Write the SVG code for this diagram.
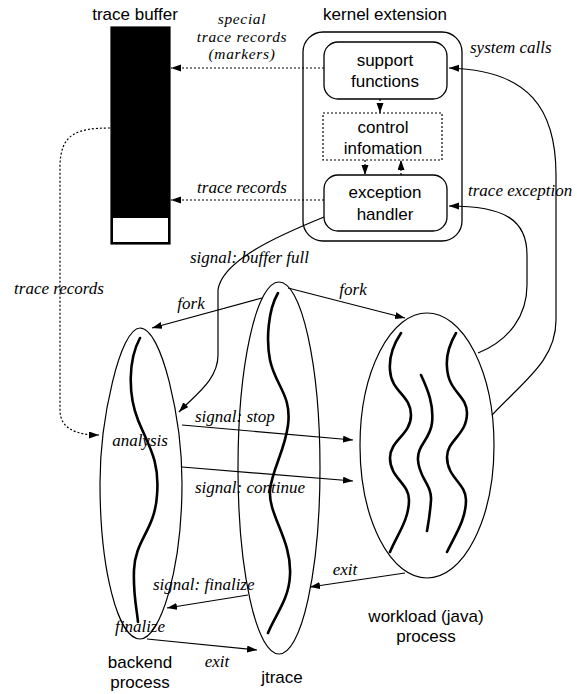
<svg xmlns="http://www.w3.org/2000/svg" width="577" height="694" viewBox="0 0 577 694">
<style>
.sans{font-family:"Liberation Sans",Arial,sans-serif;font-size:17px;fill:#000}
.it{font-family:"Liberation Serif","Times New Roman",serif;font-style:italic;font-size:17px;fill:#000}
.its{font-family:"Liberation Serif","Times New Roman",serif;font-style:italic;font-size:15.4px;letter-spacing:0.7px;fill:#000}
.box{fill:#fff;stroke:#000;stroke-width:1.3}
.proc{fill:none;stroke:#000;stroke-width:1.2}
.thr{fill:none;stroke:#000;stroke-width:2.6;stroke-linecap:round}
.ln{fill:none;stroke:#000;stroke-width:1.2}
.dot{fill:none;stroke:#000;stroke-width:1.2;stroke-dasharray:2,2}
</style>
<defs>
<marker id="ah" markerUnits="userSpaceOnUse" markerWidth="11" markerHeight="8" refX="10" refY="3.5" orient="auto">
<path d="M0,0 L10,3.5 L0,7 z" fill="#000"/>
</marker>
</defs>
<rect width="577" height="694" fill="#fff"/>

<g id="trace-buffer">
<rect x="111" y="27" width="59" height="217" fill="#000" stroke="#000" stroke-width="1.2"/>
<rect x="113" y="218" width="55" height="24" fill="#fff"/>
<text class="sans" x="135" y="20" text-anchor="middle">trace buffer</text>
</g>

<g id="kernel-extension">
<rect class="box" x="303" y="32" width="159" height="209" rx="20"/>
<text class="sans" x="385" y="20" text-anchor="middle">kernel extension</text>
</g>

<g id="support-functions">
<rect class="box" x="324" y="42" width="123" height="57" rx="14"/>
<text class="sans" x="385" y="66" text-anchor="middle">support</text>
<text class="sans" x="385" y="87" text-anchor="middle">functions</text>
</g>

<g id="control-information">
<rect x="323" y="113" width="119" height="47" fill="#fff" stroke="#000" stroke-width="1.2" stroke-dasharray="2,2"/>
<text class="sans" x="383" y="133" text-anchor="middle">control</text>
<text class="sans" x="383" y="154" text-anchor="middle">infomation</text>
</g>

<g id="exception-handler">
<rect class="box" x="324" y="175" width="123" height="56" rx="14"/>
<text class="sans" x="385" y="198" text-anchor="middle">exception</text>
<text class="sans" x="385" y="220" text-anchor="middle">handler</text>
</g>

<g id="backend-process">
<path class="proc" d="M140,328 C120,328 100,420 100,483 C100,570 118,639 140,639 C160,639 182,570 182,483 C182,420 162,328 140,328 Z"/>
<path class="thr" d="M140,338 C128,360 128,395 138,420 C148,445 160,460 157,495 C155,530 135,540 134,570 C133,595 137,610 138,622"/>
<text class="it" x="140" y="446" text-anchor="middle">analysis</text>
<text class="it" x="140" y="632" text-anchor="middle">finalize</text>
<text class="sans" x="140" y="668" text-anchor="middle">backend</text>
<text class="sans" x="140" y="688" text-anchor="middle">process</text>
</g>

<g id="jtrace">
<ellipse class="proc" cx="279" cy="468" rx="41" ry="186"/>
<path class="thr" d="M278,293 C268,310 266,340 270,360 C275,385 292,395 288,425 C285,450 272,470 270,490 C268,515 292,540 290,575 C289,600 275,615 268,633"/>
<text class="sans" x="282" y="683" text-anchor="middle">jtrace</text>
</g>

<g id="workload-process">
<ellipse class="proc" cx="427" cy="445.5" rx="67" ry="132.5"/>
<path class="thr" d="M401,333 C393,345 389,358 390,370 C391,392 411,395 411,415 C411,435 390,440 390,458 C390,478 409,483 409,500 C409,520 397,535 390,552"/>
<path class="thr" d="M421,375 C428,390 434,405 432,423 C430,440 417,445 418,460 C419,478 432,485 431,500 C430,515 428,525 427,531"/>
<path class="thr" d="M456,333 C449,345 446,356 447,367 C448,392 467,395 467,413 C467,435 447,440 447,457 C447,478 466,483 466,500 C466,520 455,535 447,552"/>
<text class="sans" x="426" y="622" text-anchor="middle">workload (java)</text>
<text class="sans" x="426" y="642" text-anchor="middle">process</text>
</g>

<g id="connectors">
<line class="dot" x1="380" y1="99" x2="380" y2="113" marker-end="url(#ah)"/>
<line class="dot" x1="365" y1="160" x2="365" y2="175" marker-end="url(#ah)"/>
<line class="dot" x1="401" y1="175" x2="401" y2="160" marker-end="url(#ah)"/>
<line class="dot" x1="324" y1="68" x2="171" y2="68" marker-end="url(#ah)"/>
<line class="dot" x1="324" y1="200" x2="171" y2="200" marker-end="url(#ah)"/>
<path class="dot" d="M110,128 C75,128 61,135 60,165 L60,410 C60,428 75,435 99,435" marker-end="url(#ah)"/>
<path class="ln" d="M324,217 C280,235 222,260 218,290 L218,355 C218,380 195,395 179,412" marker-end="url(#ah)"/>
<line class="ln" x1="262" y1="298" x2="152" y2="328" marker-end="url(#ah)"/>
<line class="ln" x1="288" y1="288" x2="405" y2="318" marker-end="url(#ah)"/>
<line class="ln" x1="182" y1="425" x2="353" y2="440" marker-end="url(#ah)"/>
<line class="ln" x1="182" y1="467" x2="353" y2="481" marker-end="url(#ah)"/>
<line class="ln" x1="248" y1="595" x2="167" y2="608" marker-end="url(#ah)"/>
<line class="ln" x1="147" y1="639" x2="257" y2="650" marker-end="url(#ah)"/>
<line class="ln" x1="405" y1="573" x2="310" y2="587" marker-end="url(#ah)"/>
<path class="ln" d="M492,415 C525,380 556,360 556,320 L556,175 C556,110 530,70 449,68" marker-end="url(#ah)"/>
<path class="ln" d="M478,353 C510,340 527,315 527,285 L527,255 C527,220 505,206 449,206" marker-end="url(#ah)"/>
<text class="its" x="242" y="24" text-anchor="middle">special</text>
<text class="its" x="242" y="41.5" text-anchor="middle">trace records</text>
<text class="its" x="242" y="59" text-anchor="middle">(markers)</text>
<text class="it" x="242" y="193" text-anchor="middle">trace records</text>
<text class="it" x="59" y="294" text-anchor="middle">trace records</text>
<text class="it" x="470" y="53">system calls</text>
<text class="it" x="468" y="196">trace exception</text>
<text class="it" x="190" y="263">signal: buffer full</text>
<text class="it" x="191" y="309" text-anchor="middle">fork</text>
<text class="it" x="353" y="295" text-anchor="middle">fork</text>
<text class="it" x="195" y="422">signal: stop</text>
<text class="it" x="195" y="493">signal: continue</text>
<text class="it" x="153" y="590">signal: finalize</text>
<text class="it" x="217" y="667" text-anchor="middle">exit</text>
<text class="it" x="345" y="575" text-anchor="middle">exit</text>
</g>
</svg>
